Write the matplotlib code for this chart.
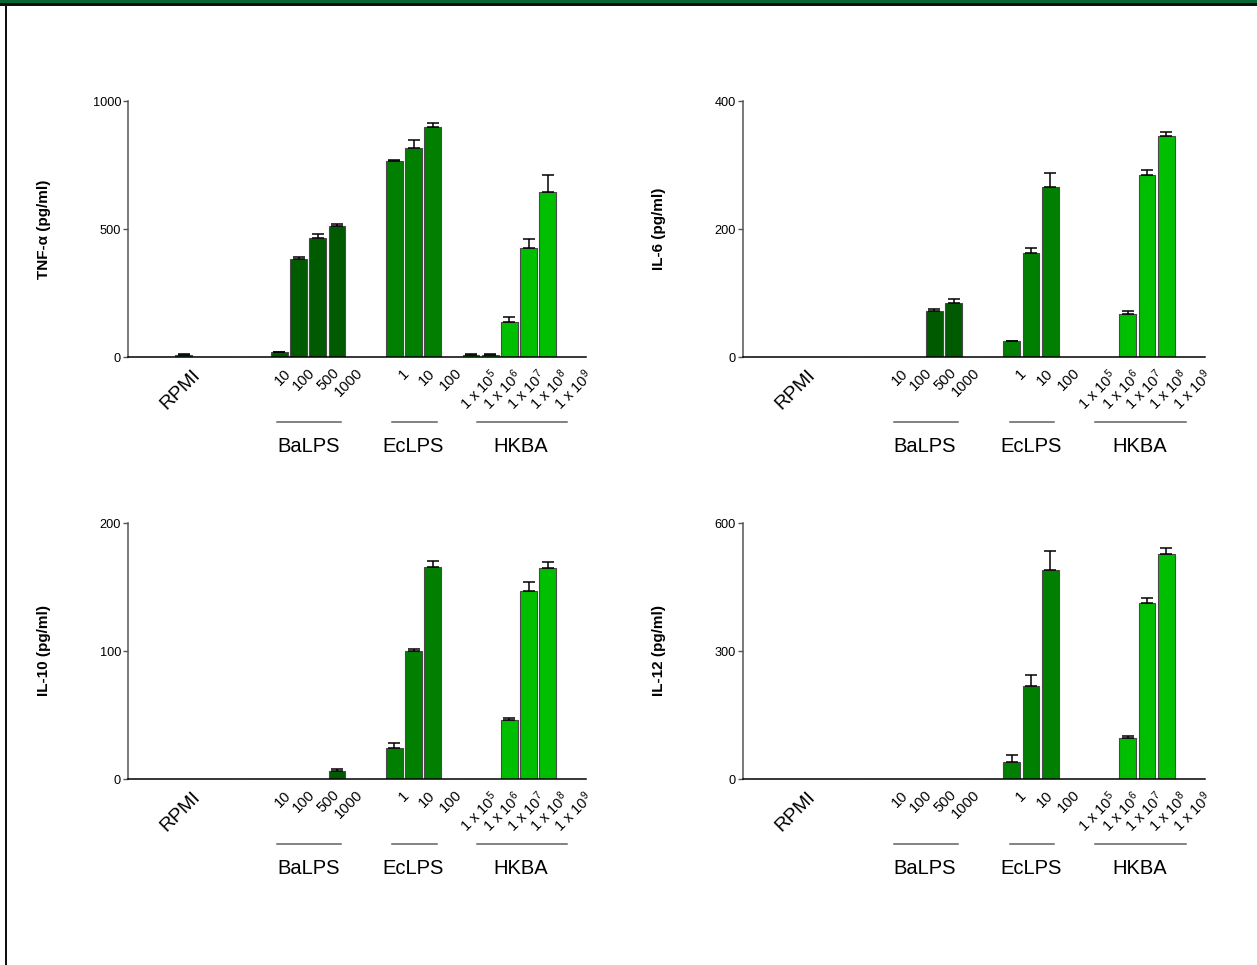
import matplotlib
matplotlib.use('Agg')
import matplotlib.pyplot as plt
import matplotlib.transforms as mtransforms
from matplotlib.lines import Line2D
from matplotlib.patches import Rectangle
import numpy as np

plt.rcParams['font.family'] = ['Liberation Sans', 'DejaVu Sans']
plt.rcParams['mathtext.fontset'] = 'custom'
plt.rcParams['mathtext.rm'] = 'Liberation Sans'
plt.rcParams['mathtext.it'] = 'Liberation Sans'
plt.rcParams['mathtext.bf'] = 'Liberation Sans:bold'

# ---------------- data ----------------
groups = ['RPMI', 'BaLPS', 'EcLPS', 'HKBA']
rpmi_labels = ['', '', 'RPMI', '', '']
balps_labels = ['', '10', '100', '500', '1000']
eclps_labels = ['', '1', '10', '100']
hkba_labels = ['1 x 10$^{5}$', '1 x 10$^{6}$', '1 x 10$^{7}$', '1 x 10$^{8}$', '1 x 10$^{9}$']
group_labels = [rpmi_labels, balps_labels, eclps_labels, hkba_labels]
group_colors = ['#0B5C3A', '#005A00', '#007F00', '#00BE00']

cytokines = ['TNF-\u03b1 (pg/ml)', 'IL-6 (pg/ml)', 'IL-10 (pg/ml)', 'IL-12 (pg/ml)']
y_ticks = [[0, 500, 1000], [0, 200, 400], [0, 100, 200], [0, 300, 600]]

tnf_mean = [0, 0, 7, 0, 0,   0, 18, 382, 465, 511,   0, 765, 816, 897,   8, 8, 136, 425, 646]
tnf_sem  = [0, 0, 3, 0, 0,   0, 3, 8, 17, 7,         0, 6, 31, 18,       2, 2, 20, 35, 64]

il6_mean = [0, 0, 0, 0, 0,   0, 0, 0, 72, 85,        0, 24.5, 162, 265,  0, 0, 67.5, 285, 345]
il6_sem  = [0, 0, 0, 0, 0,   0, 0, 0, 3, 5,          0, 1, 8, 22,        0, 0, 4.5, 7, 7]

il10_mean = [0, 0, 0, 0, 0,  0, 0, 0, 0, 6.5,        0, 24, 100, 166,    0, 0, 46, 147, 165]
il10_sem  = [0, 0, 0, 0, 0,  0, 0, 0, 0, 1.5,        0, 4, 1.2, 4.2,     0, 0, 2, 7, 4.7]

il12_mean = [0, 0, 0, 0, 0,  0, 0, 0, 0, 0,          0, 40, 217, 491,    0, 0, 97, 413, 528]
il12_sem  = [0, 0, 0, 0, 0,  0, 0, 0, 0, 0,          0, 17, 27, 43,      0, 0, 3, 11, 14]

means = [tnf_mean, il6_mean, il10_mean, il12_mean]
sems = [tnf_sem, il6_sem, il10_sem, il12_sem]

# ---------------- layout ----------------
W, H = 1257, 965
fig = plt.figure(figsize=(W / 100, H / 100), dpi=100)
fig.patch.set_facecolor('white')

axes_px = [(128, 101, 458, 256), (743, 101, 462, 256),
           (128, 523, 458, 256), (743, 523, 462, 256)]

# x positions: one empty slot between groups
positions, colors = [], []
slot = 0
group_pos = []
for gi, labs in enumerate(group_labels):
    gp = []
    for lab in labs:
        positions.append(slot)
        colors.append(group_colors[gi])
        gp.append(slot)
        slot += 1
    group_pos.append(gp)
    slot += 1
positions = np.array(positions, dtype=float)

# tick-label placement (offset of first label, spacing) in slot units
label_layout = [(0.4, 1.0), (0.25, 1.25), (0.4, 1.37), (0.95, 1.23)]
label_sizes = [14, 10.6, 10.6, 10.6]
# group bracket spans and label centres
bracket = {'BaLPS': (6.9, 10.2, 8.5), 'EcLPS': (12.9, 15.2, 14.0), 'HKBA': (17.3, 22.0, 19.6)}

for i in range(4):
    l, t, w, h = axes_px[i]
    ax = fig.add_axes([l / W, 1 - (t + h) / H, w / W, h / H])
    m = np.array(means[i], dtype=float)
    s = np.array(sems[i], dtype=float)
    ax.bar(positions, m, width=0.87, color=colors, edgecolor='#4a4a4a',
           linewidth=0.8, zorder=2)
    mask = s > 0
    ax.errorbar(positions[mask], m[mask], yerr=[np.zeros(mask.sum()), s[mask]],
                fmt='none', ecolor='black', elinewidth=1.1, capsize=4.3,
                capthick=1.1, zorder=3)
    ymax = y_ticks[i][-1]
    ax.set_ylim(0, ymax)
    ax.set_xlim(-0.9, 23.0)
    ax.set_yticks(y_ticks[i])
    ax.set_xticks([])
    ax.tick_params(axis='y', direction='out', length=3.5, width=1.0,
                   color='#555555', labelsize=9.2, pad=1.5)
    for sp in ['top', 'right']:
        ax.spines[sp].set_visible(False)
    ax.spines['left'].set_color('#555555')
    ax.spines['left'].set_linewidth(1.1)
    ax.spines['bottom'].set_color('black')
    ax.spines['bottom'].set_linewidth(1.1)
    ax.set_ylabel(cytokines[i], fontsize=11, fontweight='bold')
    ax.yaxis.set_label_coords(-77 / w, 0.5)

    trans = mtransforms.blended_transform_factory(ax.transData, ax.transAxes)
    # rotated category labels
    for gi, labs in enumerate(group_labels):
        off, step = label_layout[gi]
        labelled = [jj for jj, ll in enumerate(labs) if ll]
        first = group_pos[gi][labelled[0]]
        for k, j in enumerate(labelled):
            xa = first + off + k * step
            ax.text(xa, -9 / h, labs[j], transform=trans, rotation=45,
                    rotation_mode='anchor', ha='right', va='top',
                    fontsize=label_sizes[gi], clip_on=False)
    # group brackets
    for name, (x0, x1, xc) in bracket.items():
        ax.add_line(Line2D([x0, x1], [-65 / h, -65 / h], transform=trans,
                           color='#606060', lw=1.1, clip_on=False))
        ax.text(xc, -89 / h, name, transform=trans, ha='center', va='center',
                fontsize=14.5, clip_on=False)

# decorative frame: green band on top, black rule, black left edge
fig.add_artist(Rectangle((0, 1 - 3.4 / H), 1, 3.4 / H, transform=fig.transFigure,
                         facecolor='#0A6633', edgecolor='none'))
fig.add_artist(Rectangle((0, 1 - 5.7 / H), 1, 2.3 / H, transform=fig.transFigure,
                         facecolor='#111111', edgecolor='none'))
fig.add_artist(Rectangle((5 / W, 0), 2.2 / W, 1 - 3.4 / H, transform=fig.transFigure,
                         facecolor='#111111', edgecolor='none'))

fig.savefig('out.png', dpi=100, facecolor='white')
